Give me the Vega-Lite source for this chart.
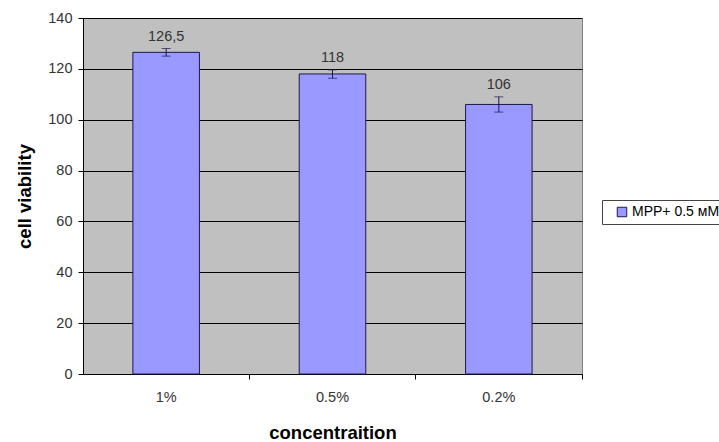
{
  "$schema": "https://vega.github.io/schema/vega-lite/v6.json",
  "width": 499,
  "height": 356,
  "autosize": "none",
  "padding": {"left": 83, "top": 18, "right": 137, "bottom": 68},
  "background": "white",
  "config": {
    "font": "Liberation Sans",
    "view": {"fill": "#C0C0C0", "stroke": "#808080", "strokeWidth": 1}
  },
  "data": {
    "values": [
      {"concentration": "1%", "viability": 126.5, "lo": 125, "hi": 128, "label": "126,5", "series": "MPP+ 0.5 мМ"},
      {"concentration": "0.5%", "viability": 118, "lo": 116.3, "hi": 119.6, "label": "118", "series": "MPP+ 0.5 мМ"},
      {"concentration": "0.2%", "viability": 106, "lo": 103, "hi": 109, "label": "106", "series": "MPP+ 0.5 мМ"}
    ]
  },
  "encoding": {
    "x": {
      "field": "concentration",
      "type": "nominal",
      "sort": null,
      "scale": {"paddingInner": 0.6, "paddingOuter": 0.3},
      "axis": {
        "title": "concentraition",
        "titleFontSize": 18.5,
        "titleFontWeight": "bold",
        "titleColor": "black",
        "titleY": 58,
        "titleBaseline": "middle",
        "labelAngle": 0,
        "labelFontSize": 14.5,
        "labelColor": "#333",
        "labelPadding": 11,
        "tickSize": 5,
        "tickColor": "black",
        "domainColor": "black",
        "bandPosition": 1.75,
        "grid": false
      }
    }
  },
  "layer": [
    {
      "mark": {"type": "bar", "stroke": "#1a1a4d", "strokeWidth": 1},
      "encoding": {
        "y": {
          "field": "viability",
          "type": "quantitative",
          "scale": {"domain": [0, 140]},
          "axis": {
            "title": "cell viability",
            "titleFontSize": 18.5,
            "titleFontWeight": "bold",
            "titleColor": "black",
            "titleX": -59,
            "titleBaseline": "middle",
            "values": [0, 20, 40, 60, 80, 100, 120, 140],
            "labelFontSize": 14.5,
            "labelColor": "#333",
            "labelPadding": 6,
            "tickSize": 5,
            "tickColor": "black",
            "domainColor": "black",
            "grid": true,
            "gridColor": "black",
            "gridOpacity": 1,
            "gridWidth": 1
          }
        },
        "fill": {
          "field": "series",
          "type": "nominal",
          "scale": {"range": ["#9999FF"]},
          "legend": {
            "title": null,
            "orient": "none",
            "legendX": 519,
            "legendY": 182,
            "symbolType": "square",
            "symbolSize": 90,
            "symbolOffset": 8,
            "symbolStrokeColor": "#1a1a4d",
            "symbolStrokeWidth": 1,
            "labelFontSize": 14,
            "labelOffset": 3,
            "labelColor": "black",
            "strokeColor": "#444",
            "fillColor": "white",
            "padding": 5
          }
        }
      }
    },
    {
      "mark": {"type": "rule", "color": "#1a1a4d", "strokeWidth": 1},
      "encoding": {
        "y": {"field": "lo", "type": "quantitative"},
        "y2": {"field": "hi"}
      }
    },
    {
      "mark": {"type": "tick", "color": "#1a1a4d", "size": 9, "thickness": 1},
      "encoding": {"y": {"field": "lo", "type": "quantitative"}}
    },
    {
      "mark": {"type": "tick", "color": "#1a1a4d", "size": 9, "thickness": 1},
      "encoding": {"y": {"field": "hi", "type": "quantitative"}}
    },
    {
      "mark": {"type": "text", "baseline": "bottom", "dy": -5, "fontSize": 14.5, "color": "#333"},
      "encoding": {
        "y": {"field": "hi", "type": "quantitative"},
        "text": {"field": "label"}
      }
    }
  ]
}
